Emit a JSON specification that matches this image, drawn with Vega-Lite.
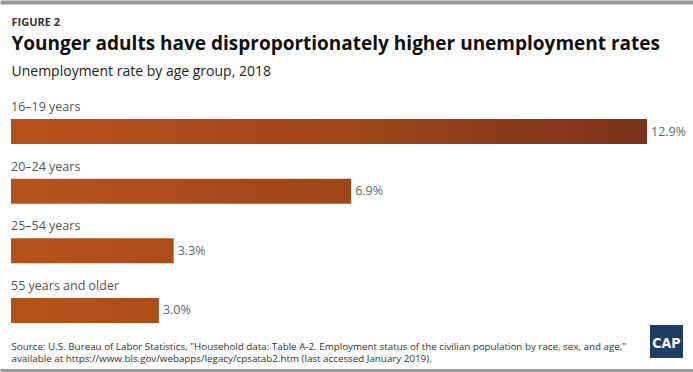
{
  "$schema": "https://vega.github.io/schema/vega-lite/v6.json",
  "width": 693,
  "height": 204,
  "autosize": {"type": "none"},
  "padding": {"left": 0, "right": 0, "top": 119, "bottom": 49},
  "background": "white",
  "config": {
    "view": {"stroke": null},
    "font": "Open Sans",
    "text": {"font": "Open Sans"}
  },
  "data": {
    "values": [
      {"age": "16–19 years", "value": 12.9, "label": "12.9%"},
      {"age": "20–24 years", "value": 6.9, "label": "6.9%"},
      {"age": "25–54 years", "value": 3.3, "label": "3.3%"},
      {"age": "55 years and older", "value": 3.0, "label": "3.0%"}
    ]
  },
  "resolve": {"axis": {"x": "independent", "y": "independent"}},
  "layer": [
    {
      "transform": [{"filter": {"field": "age", "equal": "16–19 years"}}],
      "mark": {"type": "bar", "color": {"gradient": "linear", "x1": 0, "y1": 0, "x2": 1, "y2": 0, "stops": [{"offset": 0, "color": "#b5521a"}, {"offset": 0.5, "color": "#a2471a"}, {"offset": 1, "color": "#7a321a"}]}},
      "encoding": {
        "x": {"field": "value", "type": "quantitative", "scale": {"domain": [-0.2231, 13.833], "nice": false, "zero": false},
          "axis": {"orient": "top", "offset": 117, "labels": false, "ticks": false, "grid": false, "domain": true, "domainColor": "#9a9a9a", "domainWidth": 4,
            "title": "Unemployment rate by age group, 2018", "titleX": 11, "titleY": 73, "titleAlign": "left", "titleAnchor": null, "titleBaseline": "alphabetic", "titleFont": "Open Sans", "titleFontSize": 14, "titleFontWeight": "normal", "titleColor": "#222", "titleLimit": 1000}},
        "x2": {"datum": 0},
        "y": {"field": "age", "type": "nominal", "sort": null, "scale": {"paddingInner": 0.58, "paddingOuter": 0},
          "axis": {"orient": "left", "labels": false, "ticks": false, "domain": false, "grid": false,
            "title": "Younger adults have disproportionately higher unemployment rates", "titleAngle": 0, "titleX": 11, "titleY": -70, "titleAlign": "left", "titleAnchor": null, "titleBaseline": "alphabetic", "titleFont": "Open Sans", "titleFontSize": 19, "titleFontWeight": "bold", "titleColor": "#111", "titleLimit": 1000}}
      }
    },
    {
      "transform": [{"filter": {"field": "age", "equal": "20–24 years"}}],
      "mark": {"type": "bar", "color": {"gradient": "linear", "x1": 0, "y1": 0, "x2": 1.8696, "y2": 0, "stops": [{"offset": 0, "color": "#b5521a"}, {"offset": 0.5, "color": "#a2471a"}, {"offset": 1, "color": "#7a321a"}]}},
      "encoding": {
        "x": {"field": "value", "type": "quantitative", "axis": null},
        "x2": {"datum": 0},
        "y": {"field": "age", "type": "nominal", "sort": null, "axis": null}
      }
    },
    {
      "transform": [{"filter": {"field": "age", "equal": "25–54 years"}}],
      "mark": {"type": "bar", "color": {"gradient": "linear", "x1": 0, "y1": 0, "x2": 3.909, "y2": 0, "stops": [{"offset": 0, "color": "#b5521a"}, {"offset": 0.5, "color": "#a2471a"}, {"offset": 1, "color": "#7a321a"}]}},
      "encoding": {
        "x": {"field": "value", "type": "quantitative", "axis": null},
        "x2": {"datum": 0},
        "y": {"field": "age", "type": "nominal", "sort": null, "axis": null}
      }
    },
    {
      "transform": [{"filter": {"field": "age", "equal": "55 years and older"}}],
      "mark": {"type": "bar", "color": {"gradient": "linear", "x1": 0, "y1": 0, "x2": 4.3, "y2": 0, "stops": [{"offset": 0, "color": "#b5521a"}, {"offset": 0.5, "color": "#a2471a"}, {"offset": 1, "color": "#7a321a"}]}},
      "encoding": {
        "x": {"field": "value", "type": "quantitative", "axis": null},
        "x2": {"datum": 0},
        "y": {"field": "age", "type": "nominal", "sort": null, "axis": null}
      }
    },
    {
      "mark": {"type": "text", "align": "left", "baseline": "middle", "dx": 4, "fontSize": 12.5, "color": "#666"},
      "encoding": {
        "x": {"field": "value", "type": "quantitative",
          "axis": {"orient": "bottom", "offset": 47, "labels": false, "ticks": false, "grid": false, "domain": true, "domainColor": "#9a9a9a", "domainWidth": 3,
            "title": ["Source: U.S. Bureau of Labor Statistics, \"Household data: Table A-2. Employment status of the civilian population by race, sex, and age,\"", "available at https://www.bls.gov/webapps/legacy/cpsatab2.htm (last accessed January 2019)."],
            "titleX": 11, "titleY": -21, "titleAlign": "left", "titleAnchor": null, "titleBaseline": "alphabetic", "titleFont": "Liberation Sans Narrow, Open Sans", "titleFontSize": 9.8, "titleFontWeight": "normal", "titleColor": "#333", "titleLineHeight": 12.5, "titleLimit": 1000}},
        "y": {"field": "age", "type": "nominal", "sort": null, "axis": null},
        "text": {"field": "label"}
      }
    },
    {
      "mark": {"type": "text", "align": "left", "baseline": "alphabetic", "yOffset": -20.5, "fontSize": 12.5, "color": "#555"},
      "encoding": {
        "x": {"datum": 0, "type": "quantitative", "axis": null},
        "y": {"field": "age", "type": "nominal", "sort": null,
          "axis": {"orient": "right", "labels": false, "ticks": false, "domain": false, "grid": false,
            "title": "FIGURE 2", "titleAngle": 0, "titleX": -682, "titleY": -94, "titleAlign": "left", "titleAnchor": null, "titleBaseline": "alphabetic", "titleFont": "Open Sans", "titleFontSize": 11, "titleFontWeight": "bold", "titleColor": "#333", "titleLimit": 1000}},
        "text": {"field": "age"}
      }
    },
    {
      "data": {"values": [{"logo": "CAP"}]},
      "mark": {"type": "square", "size": 1089, "filled": true, "color": "#1d3d63", "opacity": 1, "yOffset": 31},
      "encoding": {
        "x": {"datum": 13.295, "type": "quantitative", "axis": null},
        "y": {"datum": "55 years and older", "type": "nominal", "axis": null}
      }
    },
    {
      "data": {"values": [{"logo": "CAP"}]},
      "mark": {"type": "text", "align": "center", "baseline": "middle", "yOffset": 34, "font": "DejaVu Sans Condensed", "fontWeight": "bold", "fontSize": 14, "color": "white"},
      "encoding": {
        "x": {"datum": 13.295, "type": "quantitative", "axis": null},
        "y": {"datum": "55 years and older", "type": "nominal", "axis": null},
        "text": {"field": "logo"}
      }
    }
  ]
}
